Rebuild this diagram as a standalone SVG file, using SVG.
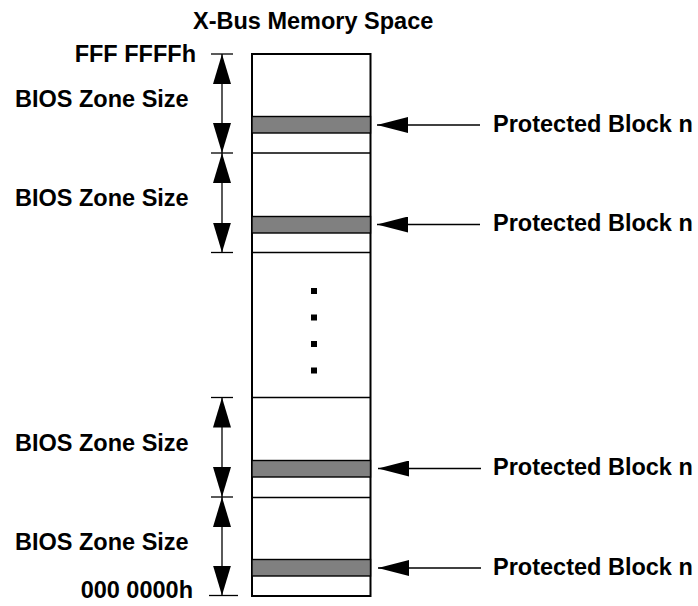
<svg xmlns="http://www.w3.org/2000/svg" width="698" height="606" viewBox="0 0 698 606">
<style>
  text { font-family: "Liberation Sans", Arial, sans-serif; font-weight: bold; font-size: 23.5px; fill: #000; }
  .box { fill: #fff; stroke: #000; stroke-width: 2; }
  .div { stroke: #000; stroke-width: 1.4; fill: none; }
  .band { fill: #808080; stroke: #000; stroke-width: 1.4; }
  .dim { stroke: #000; stroke-width: 1.3; fill: none; marker-start: url(#dimHead); marker-end: url(#dimHead); }
  .tick { stroke: #000; stroke-width: 1.3; }
  .ptr { stroke: #000; stroke-width: 1.3; fill: none; marker-end: url(#ptrHead); }
  .dot { fill: #000; }
</style>
<defs>
  <marker id="dimHead" viewBox="0 0 30 18" refX="30" refY="9" markerWidth="30" markerHeight="18" markerUnits="userSpaceOnUse" orient="auto-start-reverse">
    <path d="M0,0 L30,9 L0,18 Z" fill="#000"/>
  </marker>
  <marker id="ptrHead" viewBox="0 0 31 16" refX="31" refY="8" markerWidth="31" markerHeight="16" markerUnits="userSpaceOnUse" orient="auto">
    <path d="M0,0 L31,8 L0,16 Z" fill="#000"/>
  </marker>
</defs>

<text id="title" x="193" y="29">X-Bus Memory Space</text>

<g id="memory">
  <rect class="box" x="252" y="54" width="118.5" height="542"/>
</g>

<g id="zone1">
  <line class="div" x1="252" y1="153" x2="370.5" y2="153"/>
  <rect class="band" x="252" y="116.5" width="118.5" height="16.5"/>
</g>
<g id="zone2">
  <line class="div" x1="252" y1="252.5" x2="370.5" y2="252.5"/>
  <rect class="band" x="252" y="216.5" width="118.5" height="16.5"/>
</g>
<g id="gap">
  <rect class="dot" x="311" y="288" width="6" height="6"/>
  <rect class="dot" x="311" y="314.5" width="6" height="6"/>
  <rect class="dot" x="311" y="341" width="6" height="6"/>
  <rect class="dot" x="311" y="367.5" width="6" height="6"/>
</g>
<g id="zone3">
  <line class="div" x1="252" y1="397.5" x2="370.5" y2="397.5"/>
  <rect class="band" x="252" y="460.5" width="118.5" height="16.5"/>
</g>
<g id="zone4">
  <line class="div" x1="252" y1="497.5" x2="370.5" y2="497.5"/>
  <rect class="band" x="252" y="559.5" width="118.5" height="16.5"/>
</g>

<g id="labels-left">
  <text x="196" y="61.5" text-anchor="end">FFF FFFFh</text>
  <text x="15" y="106.5">BIOS Zone Size</text>
  <text x="15" y="205.5">BIOS Zone Size</text>
  <text x="15" y="451">BIOS Zone Size</text>
  <text x="15" y="549.5">BIOS Zone Size</text>
  <text x="193" y="598" text-anchor="end">000 0000h</text>
</g>

<g id="labels-right">
  <text x="493" y="131.5">Protected Block n</text>
  <text x="493" y="231">Protected Block n</text>
  <text x="493" y="475">Protected Block n</text>
  <text x="493" y="574.5">Protected Block n</text>
</g>

<g id="connectors">
  <line class="tick" x1="211" y1="54" x2="233" y2="54"/>
  <line class="tick" x1="211" y1="153" x2="233" y2="153"/>
  <line class="tick" x1="211" y1="252.5" x2="233" y2="252.5"/>
  <line class="tick" x1="211" y1="397.5" x2="233" y2="397.5"/>
  <line class="tick" x1="211" y1="497" x2="233" y2="497"/>
  <line class="tick" x1="209" y1="595.5" x2="238" y2="595.5"/>
  <line class="dim" x1="222" y1="54" x2="222" y2="153"/>
  <line class="dim" x1="222" y1="153" x2="222" y2="252.5"/>
  <line class="dim" x1="222" y1="397.5" x2="222" y2="497"/>
  <line class="dim" x1="222" y1="497" x2="222" y2="595.5"/>
  <line class="ptr" x1="480" y1="125" x2="377" y2="125"/>
  <line class="ptr" x1="480" y1="224.5" x2="377" y2="224.5"/>
  <line class="ptr" x1="481" y1="468.5" x2="378" y2="468.5"/>
  <line class="ptr" x1="481" y1="568" x2="378" y2="568"/>
</g>
</svg>
